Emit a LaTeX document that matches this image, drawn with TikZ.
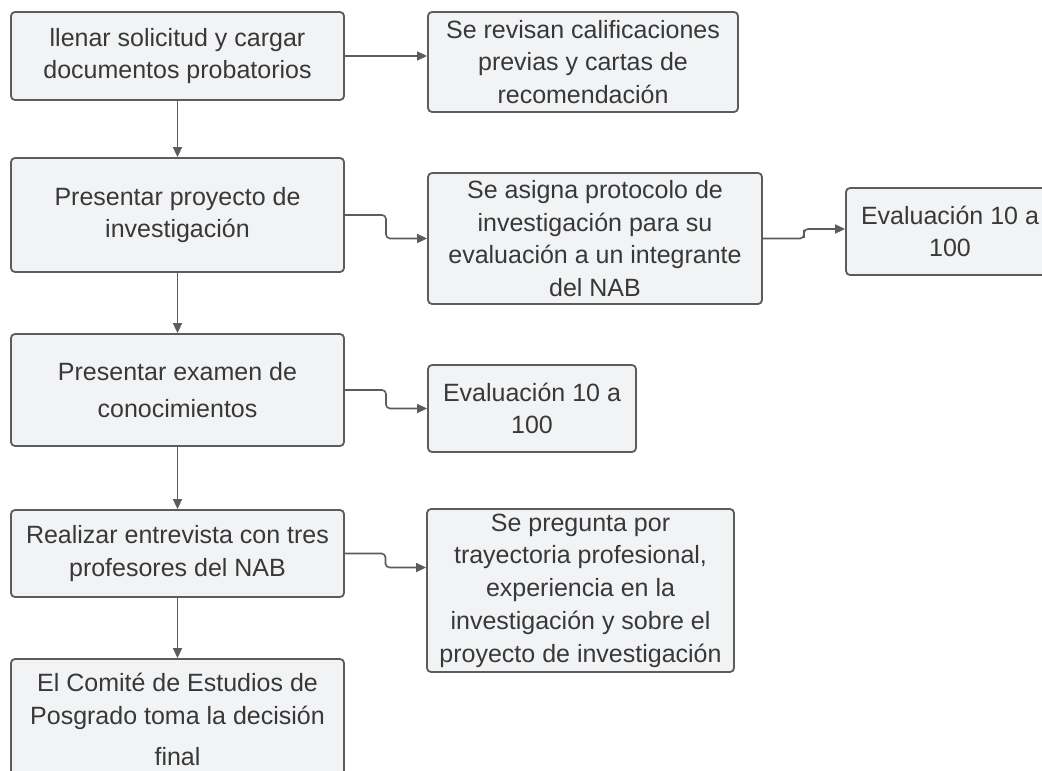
\documentclass[tikz,border=0pt]{standalone}
\usepackage{fontspec}
\setmainfont{Liberation Sans}
\usetikzlibrary{positioning,arrows.meta,calc}
\definecolor{boxfill}{HTML}{F2F3F5}
\definecolor{boxline}{HTML}{5C5C5C}
\definecolor{txt}{HTML}{383838}
\tikzset{>={Triangle[length=5pt,width=4.5pt]},
box/.style={rectangle,draw=boxline,fill=boxfill,line width=0.9pt,rounded corners=2pt,
  text=txt,align=center,inner sep=0pt,font=\fontsize{12.5}{16.4}\selectfont},
con/.style={->,draw=boxline,line width=0.8pt},
zig/.style={con,rounded corners=2pt,
  to path={-| ($(\tikztostart)!.5!(\tikztotarget)$) |- (\tikztotarget)}},
}
\begin{document}
\begin{tikzpicture}[x=0.5pt,y=-0.5pt]
\clip (0,0) rectangle (1042,770);
\node[box,minimum width=166.5pt,minimum height=44pt] (s1) at (177.5,56) {llenar solicitud y cargar\\documentos probatorios};
\node[box,minimum width=166.5pt,minimum height=57pt] (s2) at (177.5,215) {Presentar proyecto de\\investigación};
\node[box,minimum width=166.5pt,minimum height=56pt] (s3) at (177.5,390) {Presentar examen de\\[2pt]conocimientos};
\node[box,minimum width=166.5pt,minimum height=43.5pt] (s4) at (177.5,553.5) {Realizar entrevista con tres\\profesores del NAB};
\node[box,minimum width=166.5pt,minimum height=60.5pt] (s5) at (177.5,719.5) {El Comité de Estudios de\\Posgrado toma la decisión\\[4pt]final};

\node[box,minimum width=155pt,minimum height=50pt] (r1) at (583,62) {Se revisan calificaciones\\previas y cartas de\\recomendación};
\node[box,minimum width=167pt,minimum height=65.5pt] (r2) at (595,238.5) {Se asigna protocolo de\\investigación para su\\evaluación a un integrante\\del NAB};
\node[box,minimum width=104pt,minimum height=43.5pt] (r3) at (950,231.5) {Evaluación 10 a\\100};
\node[box,minimum width=104pt,minimum height=43.5pt] (r4) at (532,408.5) {Evaluación 10 a\\100};
\node[box,minimum width=153.5pt,minimum height=81.5pt] (r5) at (580.5,590.5) {Se pregunta por\\trayectoria profesional,\\experiencia en la\\investigación y sobre el\\proyecto de investigación};

\path
(s1.south) edge[con] (s2.north)
(s2.south) edge[con] (s3.north)
(s3.south) edge[con] (s4.north)
(s4.south) edge[con] (s5.north)
(s1.east) edge[con] (s1.east -| r1.west)
(s2.east) edge[zig] (r2.west)
(r2.east) edge[zig] ([yshift=1.25pt]r3.west)
(s3.east) edge[zig] (r4.west)
(s4.east) edge[zig] ([yshift=11.5pt]r5.west)
;
\end{tikzpicture}
\end{document}
